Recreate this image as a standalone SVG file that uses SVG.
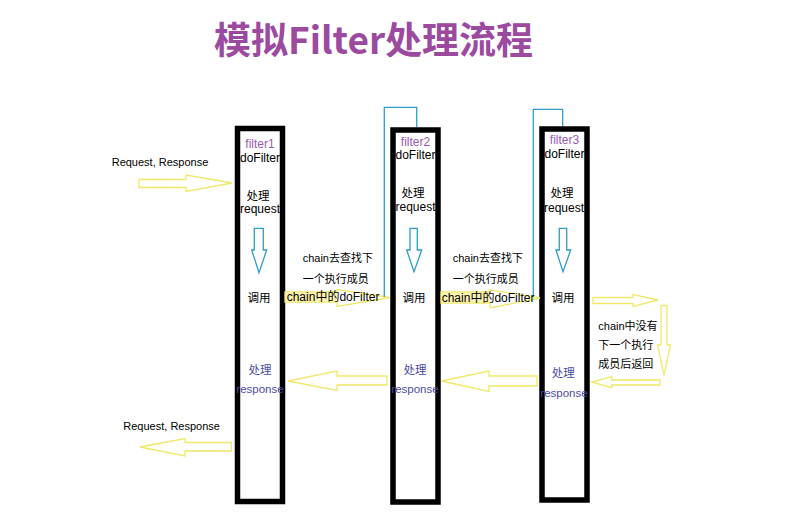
<svg xmlns="http://www.w3.org/2000/svg" width="786" height="514" viewBox="0 0 786 514">
<style>
text{font-family:"Liberation Sans","Noto Sans CJK SC",sans-serif;font-size:11.5px;fill:#000}
.title{font-family:"Noto Sans CJK SC","Noto Sans",sans-serif;font-size:37px;font-weight:bold;fill:#9b4a9f}
.box{fill:#fff;stroke:#000;stroke-width:5.5}
.c{text-anchor:middle}
.fn{fill:#9b59b6;font-size:12px}
.df{font-size:12px}
.resp{fill:#4b4ba8}
.ya{fill:#fff;stroke:#f0e86a;stroke-width:1.3}
.hl{fill:#fcf3b2;stroke:none}
.ba{fill:#fff;stroke:#2f9dc8;stroke-width:1.3}
.loop{fill:none;stroke:#2f9dc8;stroke-width:1.3}
</style>
<rect width="786" height="514" fill="#fff"/>
<text class="title" x="214" y="54">模拟Filter处理流程</text>

<g id="filter1">
<rect class="box" x="237.5" y="128.5" width="45" height="373"/>
<text class="c fn" x="260" y="147.5">filter1</text>
<text class="c df" x="260" y="161.5">doFilter</text>
<text class="c" x="258" y="200">处理</text>
<text class="c df" x="260" y="213">request</text>
<polygon class="ba" points="254.3,228.3 263.3,228.3 263.3,250 266.7,250 259,272.7 251.7,250 254.3,250"/>
<text class="c" x="259" y="302">调用</text>
<text class="c resp" x="260" y="374">处理</text>
<text class="c resp" x="260" y="393">response</text>
</g>

<g id="filter2">
<rect class="box" x="393" y="130" width="45" height="372"/>
<text class="c fn" x="415.5" y="146">filter2</text>
<text class="c df" x="415.5" y="159">doFilter</text>
<text class="c" x="413" y="197">处理</text>
<text class="c df" x="415.5" y="211">request</text>
<polygon class="ba" points="410,228.3 417.3,228.3 417.3,250 421.7,250 414,271.7 406.7,250 410,250"/>
<text class="c" x="414" y="302">调用</text>
<text class="c resp" x="415" y="374">处理</text>
<text class="c resp" x="415" y="393">response</text>
</g>

<g id="filter3">
<rect class="box" x="542" y="129" width="45" height="371"/>
<text class="c fn" x="564.5" y="144">filter3</text>
<text class="c df" x="564.5" y="157.5">doFilter</text>
<text class="c" x="562" y="197">处理</text>
<text class="c df" x="564" y="212">request</text>
<polygon class="ba" points="559.3,228.3 566.7,228.3 566.7,250 570.7,250 563,271.7 556,250 559.3,250"/>
<text class="c" x="563" y="302">调用</text>
<text class="c resp" x="563.3" y="377">处理</text>
<text class="c resp" x="564" y="397">response</text>
</g>

<g id="connectors">
<polygon class="ya" points="139,179.5 186,179.5 186,175 232,183 186,191.5 186,187.5 139,187.5"/>
<polygon class="ya" points="285,292 337,292 337,289.5 390,297.5 337,306.5 337,302 285,302"/>
<rect class="hl" x="285.7" y="292.7" width="50.6" height="8.6"/>
<polygon class="ya" points="441,292 490,292 490,290 540,298 490,308 490,303 441,303"/>
<rect class="hl" x="441.7" y="292.7" width="47.6" height="9.6"/>
<polygon class="ya" points="593,297.5 633,297.5 633,294.5 658,300 633,306.5 633,303.5 593,303.5"/>
<polygon class="ya" points="661,305.5 667,305.5 667,345 670.5,345 664,375 657.5,345 661,345"/>
<polygon class="ya" points="660,380 611.7,380 611.7,376.7 591.7,382 611.7,387.7 611.7,385 660,385"/>
<polygon class="ya" points="537,376 489,376 489,371 441.5,381 489,391.5 489,386 537,386"/>
<polygon class="ya" points="387,376 337,376 337,371 288,381 337,390.5 337,385 387,385"/>
<polygon class="ya" points="231.5,442.5 185,442.5 185,438.5 140,447 185,456 185,451 231.5,451"/>
<polyline class="loop" points="384.3,297 384.3,107.3 416.7,107.3 416.7,127"/>
<polyline class="loop" points="533.3,297 533.3,109.3 562.7,109.3 562.7,126"/>
</g>

<g id="labels">
<text x="111.7" y="166" style="font-size:11px">Request, Response</text>
<text x="123.3" y="430" style="font-size:11px">Request, Response</text>
<text x="302.7" y="261.7" style="font-size:11px">chain去查找下</text>
<text x="302.7" y="282.7" style="font-size:11px">一个执行成员</text>
<text x="286.7" y="301" class="df">chain中的doFilter</text>
<text x="452.7" y="261.7" style="font-size:11px">chain去查找下</text>
<text x="452.7" y="282.7" style="font-size:11px">一个执行成员</text>
<text x="441.7" y="301.7" class="df">chain中的doFilter</text>
<text x="598.3" y="330" style="font-size:11px">chain中没有</text>
<text x="598.3" y="349" style="font-size:11px">下一个执行</text>
<text x="598.3" y="368" style="font-size:11px">成员后返回</text>
</g>
</svg>
